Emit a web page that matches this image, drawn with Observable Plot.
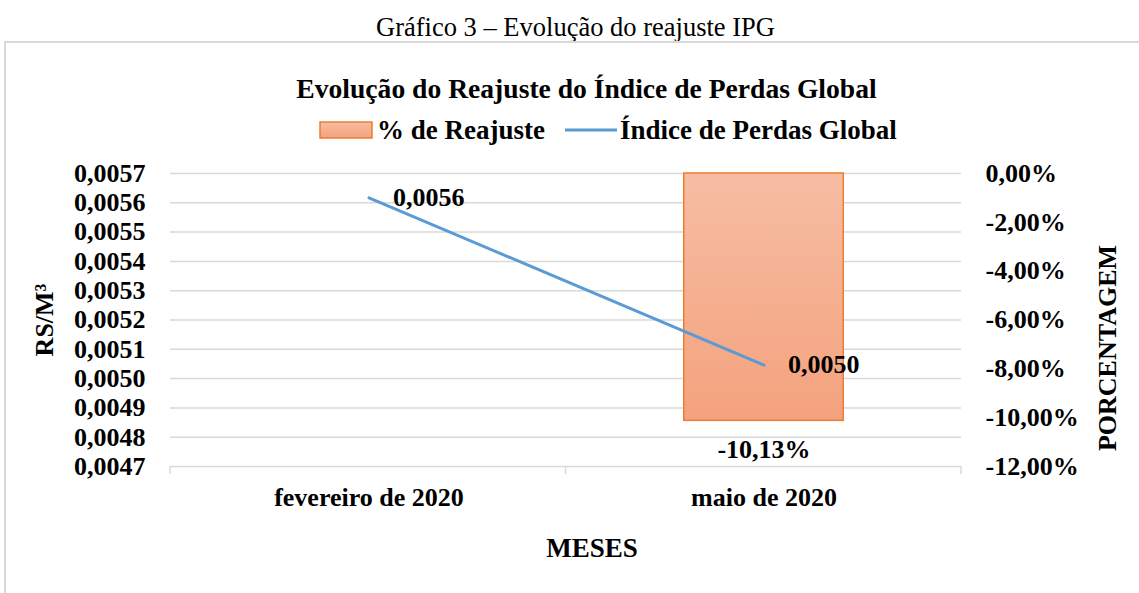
<!DOCTYPE html>
<html><head><meta charset="utf-8">
<script src="https://cdn.jsdelivr.net/npm/d3@7"></script>
<script src="https://cdn.jsdelivr.net/npm/@observablehq/plot@0.6"></script>
<style>
body{margin:0;background:#fff;font-family:"Liberation Serif","Times New Roman",serif;}
#page{position:relative;width:1139px;height:593px;overflow:hidden;background:#fff;}
.t{position:absolute;white-space:nowrap;line-height:1;color:#000;}
#box{position:absolute;left:4px;top:41px;width:1140px;height:560px;border-left:2px solid #d9d9d9;border-top:2px solid #d9d9d9;box-sizing:border-box;}
#chart{position:absolute;left:0;top:150px;}
</style></head><body><div id="page">
<div class="t" id="caption" style="font-size:26.5px;left:0;width:1151px;text-align:center;top:14px;">Gráfico 3 – Evolução do reajuste IPG</div>
<div id="box"></div>
<div class="t" id="title" style="font-size:27.6px;font-weight:bold;left:0;width:1173px;text-align:center;top:75px;">Evolução do Reajuste do Índice de Perdas Global</div>
<div id="legend"></div>
<div id="chart"></div>
<div class="t" id="ylab" style="font-size:26px;font-weight:bold;left:45px;top:320px;transform:translate(-50%,-50%) rotate(-90deg);">RS/M³</div>
<div class="t" id="ylab2" style="font-size:26px;font-weight:bold;left:1108px;top:348px;transform:translate(-50%,-50%) rotate(-90deg);">PORCENTAGEM</div>
<div class="t" id="xlab" style="font-size:27px;font-weight:bold;left:592px;top:548px;transform:translate(-50%,-50%);">MESES</div>
</div>
<script>
// ---- data ----
const meses = ["fevereiro de 2020", "maio de 2020"];
const ipg = [0.005617, 0.005046];          // Índice de Perdas Global (R$/M³)
const reajuste = [null, -10.13];            // % de Reajuste
const yTicks = [0.0047, 0.0048, 0.0049, 0.0050, 0.0051, 0.0052, 0.0053, 0.0054, 0.0055, 0.0056, 0.0057];
const pctTicks = [0, -2, -4, -6, -8, -10, -12];
const seriesNames = ["% de Reajuste", "Índice de Perdas Global"];

// ---- helpers ----
const yMin = yTicks[0], yMax = yTicks[yTicks.length - 1];
const pMin = d3.min(pctTicks), pMax = d3.max(pctTicks);
const pctToY = p => yMin + (p - pMin) / (pMax - pMin) * (yMax - yMin);
const yToPct = y => pMin + (y - yMin) / (yMax - yMin) * (pMax - pMin);
const fmtNum = v => v.toFixed(4).replace(".", ",");
const fmtPct = v => v.toFixed(2).replace(".", ",") + "%";

const rows = meses.map((m, i) => ({mes: m, ipg: ipg[i], reajuste: reajuste[i]}));
const barRows = rows.filter(d => d.reajuste != null);

const W = 1139, H = 443, mL = 170, mR = 178, mT = 23, mB = 127;
const step = (W - mL - mR) / meses.length;
const barInset = (step - 160) / 2;

const chart = Plot.plot({
  width: W, height: H,
  marginLeft: mL, marginRight: mR, marginTop: mT, marginBottom: mB,
  style: {fontFamily: "Liberation Serif, Times New Roman, serif", fontSize: "26px", fontWeight: "bold", color: "#000", background: "transparent", overflow: "visible"},
  x: {type: "band", domain: meses, padding: 0, label: null},
  y: {domain: [yMin, yMax], label: null},
  marks: [
    Plot.gridY(yTicks, {stroke: "#d9d9d9", strokeOpacity: 1, strokeWidth: 1.5}),
    Plot.barY(barRows, {x: "mes", y1: () => pctToY(0), y2: d => pctToY(d.reajuste), fill: "url(#barGrad)", stroke: "#ed7d31", strokeWidth: 1.5, insetLeft: barInset, insetRight: barInset}),
    Plot.lineY(rows, {x: "mes", y: "ipg", stroke: "#5b9bd5", strokeWidth: 3}),
    Plot.text(rows, {x: "mes", y: "ipg", text: d => fmtNum(d.ipg), textAnchor: "start", dx: 24, fontSize: 26, fontWeight: "bold", fill: "#000"}),
    Plot.text(barRows, {x: "mes", y: d => pctToY(d.reajuste), text: d => fmtPct(d.reajuste), dy: 29, fontSize: 26, fontWeight: "bold", fill: "#000"}),
    Plot.axisY(yTicks, {anchor: "left", tickSize: 0, tickPadding: 25, tickFormat: fmtNum, label: null, fontSize: 26, fontWeight: "bold"}),
    Plot.axisY(pctTicks.map(pctToY), {anchor: "right", tickSize: 0, tickPadding: 24, tickFormat: y => fmtPct(yToPct(y)), label: null, fontSize: 26, fontWeight: "bold"}),
    Plot.axisX({anchor: "bottom", tickSize: 0, tickPadding: 21, label: null, fontSize: 26, fontWeight: "bold"})
  ]
});

// gradient for the bar
const svg = d3.select(chart);
const grad = svg.insert("defs", ":first-child").append("linearGradient")
  .attr("id", "barGrad").attr("x1", 0).attr("y1", 0).attr("x2", 0).attr("y2", 1);
grad.append("stop").attr("offset", "0%").attr("stop-color", "#f6bda3");
grad.append("stop").attr("offset", "100%").attr("stop-color", "#f4a27d");

// category boundary tick marks on the bottom axis
const xs = chart.scale("x"), ysc = chart.scale("y");
const x0 = d3.min(xs.range), bandStep = (d3.max(xs.range) - x0) / xs.domain.length;
const yAxisPix = d3.max(ysc.range);
const g = svg.append("g").attr("stroke", "#d9d9d9").attr("stroke-width", 1.5);
for (let i = 0; i <= xs.domain.length; i++) {
  const px = x0 + i * bandStep;
  g.append("line").attr("x1", px).attr("x2", px).attr("y1", yAxisPix).attr("y2", yAxisPix + 8);
}
document.getElementById("chart").appendChild(chart);

// legend
const leg = document.getElementById("legend");
leg.innerHTML = `
<svg style="position:absolute;left:0;top:0;overflow:visible" width="1139" height="160">
  <defs><linearGradient id="legGrad" x1="0" y1="0" x2="0" y2="1"><stop offset="0%" stop-color="#f6bda3"/><stop offset="100%" stop-color="#f4a27d"/></linearGradient></defs>
  <rect x="320" y="122" width="52" height="16" fill="url(#legGrad)" stroke="#ed7d31" stroke-width="1.5"></rect>
  <line x1="565" x2="617" y1="130" y2="130" stroke="#5b9bd5" stroke-width="3"></line>
</svg>
<div class="t" style="font-size:27px;font-weight:bold;left:377px;top:117px;">${seriesNames[0]}</div>
<div class="t" style="font-size:27px;font-weight:bold;left:620px;top:117px;">${seriesNames[1]}</div>`;
</script>
</body></html>
